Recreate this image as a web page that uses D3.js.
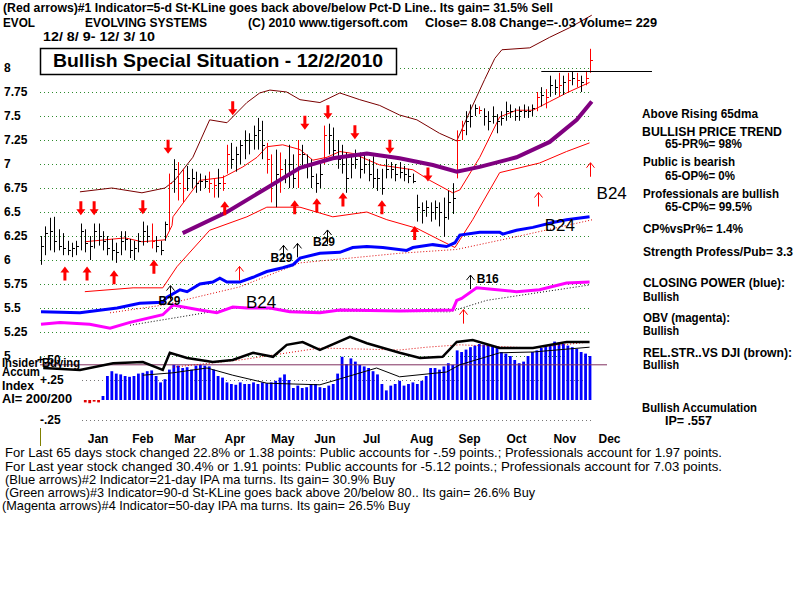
<!DOCTYPE html>
<html>
<head>
<meta charset="utf-8">
<script src="https://cdn.jsdelivr.net/npm/d3@7"></script>
<style>
  body { margin: 0; background: #fff; }
  svg { display: block; }
  text { font-family: "Liberation Sans", Arial, sans-serif; }
</style>
</head>
<body>
<svg id="chart" width="800" height="600"></svg>
<script>
// ---- data (bar index 0..124, Dec 8 2009 - Dec 3 2010) ----
const highs = [6.25,6.35,6.44,6.45,6.32,6.28,6.2,6.18,6.2,6.38,
  6.32,6.25,6.38,6.38,6.3,6.25,6.22,6.18,6.3,6.3,
  6.22,6.2,6.28,6.4,6.36,6.38,6.25,6.2,6.4,6.9,
  7.05,7.02,6.95,6.98,6.95,6.92,6.9,6.88,6.92,6.85,
  6.95,6.88,7.2,7.22,7.18,7.25,7.35,7.32,7.4,7.48,
  7.45,7.22,7.1,7.15,7.12,7.05,7.2,7.1,7.25,7.2,
  7.1,7.05,6.9,7.0,7.4,7.42,7.38,7.25,7.2,7.12,
  7.1,7.15,7.12,7.1,7.05,7.08,6.95,6.95,7.05,7.02,
  7.0,7.02,6.98,6.95,6.9,6.68,6.6,6.62,6.6,6.62,
  6.6,6.65,6.72,6.8,7.35,7.45,7.55,7.62,7.62,7.6,
  7.58,7.55,7.6,7.52,7.55,7.65,7.62,7.58,7.6,7.62,
  7.6,7.62,7.75,7.8,7.78,7.92,7.88,7.95,7.92,7.95,
  7.96,7.95,7.92,7.97,8.2];
const lows = [5.95,6.05,6.1,6.08,6.1,6.05,6.05,6.03,6.05,6.1,
  6.08,6.0,6.12,6.15,6.1,6.05,6.0,5.97,6.05,6.1,
  6.02,6.0,6.08,6.15,6.18,6.12,6.08,6.05,6.2,6.3,
  6.7,6.62,6.6,6.72,6.75,6.7,6.72,6.75,6.7,6.65,
  6.65,6.72,6.9,6.95,6.92,7.0,7.05,7.1,7.15,7.15,
  7.05,6.9,6.6,6.55,6.7,6.8,6.75,6.75,6.75,6.95,
  6.85,6.75,6.7,6.75,7.0,7.1,7.05,6.95,6.9,6.7,
  6.85,6.95,6.85,6.9,6.82,6.75,6.72,6.68,6.85,6.85,
  6.82,6.85,6.82,6.8,6.8,6.4,6.38,6.45,6.4,6.42,
  6.35,6.24,6.42,6.48,6.85,7.25,7.3,7.38,7.5,7.52,
  7.4,7.35,7.42,7.32,7.4,7.45,7.48,7.45,7.45,7.48,
  7.48,7.5,7.55,7.6,7.58,7.7,7.72,7.7,7.72,7.75,
  7.82,7.8,7.75,7.82,7.95];
const closes = [6.15,6.28,6.3,6.2,6.15,6.12,6.1,6.12,6.15,6.3,
  6.18,6.15,6.3,6.25,6.2,6.12,6.1,6.08,6.2,6.22,
  6.1,6.12,6.2,6.3,6.25,6.2,6.15,6.1,6.38,6.8,
  6.95,6.8,6.75,6.85,6.85,6.8,6.82,6.82,6.8,6.78,
  6.8,6.8,7.1,7.05,7.1,7.2,7.25,7.25,7.3,7.35,
  7.2,7.05,6.8,6.9,6.95,6.9,7.0,6.85,7.1,7.1,
  7.0,6.88,6.8,6.9,7.3,7.3,7.15,7.05,7.0,6.85,
  7.0,7.05,6.95,7.0,6.9,6.85,6.85,6.75,6.95,6.95,
  6.9,6.92,6.9,6.88,6.82,6.55,6.52,6.55,6.5,6.55,
  6.5,6.45,6.6,6.65,7.25,7.35,7.45,7.5,7.58,7.56,
  7.5,7.45,7.5,7.45,7.48,7.55,7.55,7.5,7.55,7.55,
  7.55,7.58,7.7,7.72,7.7,7.82,7.8,7.82,7.85,7.88,
  7.9,7.88,7.85,7.9,8.08];
const redBars = [25,29,31,32,38,39,41,42,51,52,54,58,64,94,95,99,112,114,117,119,121,123,124];

// accumulation index (blue bars), first bars blank
const aiValues = [null,null,null,null,null,null,null,null,null,null,
  -0.03,-0.04,-0.02,-0.03,0.05,0.3,0.36,0.33,0.32,0.3,
  0.29,0.3,0.33,0.34,0.36,0.37,0.3,0.22,0.26,0.38,
  0.44,0.43,0.4,0.41,0.38,0.43,0.44,0.43,0.42,0.38,
  0.3,0.28,0.22,0.2,0.19,0.22,0.2,0.2,0.22,0.2,
  0.22,0.21,0.22,0.24,0.28,0.32,0.25,0.15,0.18,0.15,
  0.16,0.2,0.2,0.16,0.15,0.18,0.2,0.33,0.54,0.45,
  0.52,0.48,0.44,0.42,0.4,0.36,0.32,0.2,0.12,0.18,
  0.2,0.24,0.18,0.2,0.22,0.2,0.24,0.3,0.4,0.4,
  0.38,0.42,0.46,0.44,0.62,0.6,0.63,0.66,0.68,0.7,
  0.69,0.7,0.68,0.66,0.6,0.58,0.55,0.5,0.46,0.48,
  0.55,0.6,0.62,0.65,0.68,0.7,0.73,0.72,0.7,0.68,
  0.66,0.64,0.6,0.58,0.55];

// [bar index, value]
const upperBand = [[8.8,6.71],[16,6.75],[22.8,6.7],[28,6.75],[30.2,6.83],[34.3,7.07],[38.1,7.46],[42,7.43],
  [46.5,7.64],[49.4,7.74],[51.7,7.77],[55.5,7.75],[58.5,7.67],[63,7.64],[67.5,7.74],[72,7.67],[76.5,7.61],
  [81,7.51],[84.9,7.46],[90,7.32],[93.9,7.24],[96.8,7.54],[100.2,7.88],[102.5,8.1],[104.1,8.19],[110.4,8.21],
  [114.9,8.32],[119.4,8.42],[124.4,8.55]];
const midBand = [[9.9,6.19],[14.4,6.21],[19,6.23],[22.8,6.19],[28,6.21],[29.6,6.36],[29.8,6.45],[35.9,6.83],
  [41.1,6.86],[45.6,6.97],[48.8,7.07],[51,7.18],[54.6,7.2],[58.5,7.15],[61.4,7.04],[64.6,7.07],[67.5,7.13],
  [70.4,7.11],[76.5,6.99],[84,6.94],[87.8,6.83],[93,6.7],[94.6,6.73],[99.1,7.07],[103.6,7.49],[107.4,7.56],
  [111.1,7.56],[114.9,7.65],[118.7,7.74],[123.9,7.85]];
const lowerBand = [[9.9,5.67],[20.8,5.71],[27.5,5.71],[30.7,5.93],[38.1,6.31],[46.5,6.45],[51,6.55],[58.5,6.55],
  [65.9,6.45],[73.6,6.5],[78.1,6.42],[84.9,6.33],[90,6.21],[93.5,6.13],[97.5,6.42],[103.6,6.91],[112.6,7.01],
  [118.7,7.13],[123.9,7.22]];
const ma65 = [[32,6.28],[42,6.5],[51,6.75],[58.5,6.96],[65.9,7.06],[73.6,7.11],[81,7.06],[88.5,6.99],[93.9,6.92],
  [99.1,6.97],[107.4,7.07],[114.9,7.23],[121,7.46],[124.4,7.65]];
const closingPower = [[0,5.46],[8.8,5.45],[17.2,5.5],[22.3,5.55],[27.5,5.56],[28.4,5.61],[31.4,5.69],[33,5.67],
  [35.9,5.75],[38.8,5.77],[40.4,5.81],[42,5.77],[44.9,5.77],[47.9,5.82],[51,5.88],[54.6,5.92],[56.9,5.95],
  [58.5,6.02],[63,6.07],[67.5,6.08],[70.4,6.13],[73.6,6.14],[77.2,6.13],[82.6,6.1],[84,6.13],[88.5,6.16],
  [91.6,6.14],[93.5,6.18],[94.6,6.26],[99.1,6.29],[103.6,6.29],[104.3,6.27],[107.4,6.31],[111.1,6.34],
  [115.6,6.39],[118.7,6.42],[123.9,6.45]];
const cpTrend = [[15.6,5.45],[27.5,5.53],[44.9,5.72],[58.5,5.97],[81,6.07],[93.9,6.11],[108.1,6.25],[124.6,6.42]];
const obv = [[0,5.33],[4.3,5.35],[11,5.33],[15.6,5.29],[20.1,5.35],[27.5,5.43],[29.8,5.53],[35.9,5.48],[39.7,5.45],
  [43.3,5.51],[46.5,5.5],[51.7,5.5],[56.2,5.46],[63,5.45],[67.5,5.48],[81,5.47],[93,5.48],[93.9,5.58],[95,5.6],
  [98.4,5.71],[107.4,5.67],[112.6,5.69],[118.7,5.76],[123.9,5.77]];
const obvTrend = [[20.1,5.32],[44.9,5.51],[58.5,5.47],[92.3,5.46],[100.7,5.58],[123.9,5.74]];
const relStrength = [[0.5,0.4],[8.8,0.375],[16.3,0.46],[23,0.475],[27.5,0.375],[29.1,0.59],[33,0.525],[38.8,0.475],
  [43.3,0.5],[47.9,0.59],[52.4,0.54],[55.5,0.69],[59.1,0.725],[63,0.625],[69.8,0.79],[73.6,0.71],[81,0.59],
  [85.6,0.525],[90.7,0.54],[93.9,0.725],[97.5,0.75],[103.6,0.65],[111.1,0.65],[118.7,0.725],[123.9,0.725]];
const relStrengthMa = [[29.8,0.41],[44.9,0.5],[63,0.65],[81,0.625],[87.1,0.66],[94.6,0.69],[111.1,0.65],[123.9,0.725]];
const aiMa = [[23,0.31],[29.8,0.34],[37.5,0.4],[43.3,0.31],[51,0.21],[63,0.19],[75.8,0.4],[81,0.29],[91.6,0.35],
  [94.6,0.44],[103.6,0.59],[111.1,0.6],[123.9,0.66]];
const aiLevel = 0.44;
const resistance = { from: 113, to: 138, value: 7.97 };

// signal arrows [bar index, price]
const redUpArrows = [[5.4,5.86],[10.4,5.86],[16.5,5.82],[25.5,5.93],[41.5,6.54],[57.3,6.55],[62.3,6.57],[68.2,6.63],[77,6.55],[84.4,6.28]];
const redUpThin = [[44.7,5.86],[95.3,5.41],[112.2,6.63],[123.9,6.94]];
const redDownArrows = [[9,6.54],[12,6.54],[23,6.55],[28.7,7.18],[43.3,7.58],[59.6,7.43],[64.8,7.54],[70.9,7.33],[78.8,7.18],[87.4,6.89]];
const blackUpArrows = [[29.1,5.66],[54.6,6.08],[57.8,6.1],[64.6,6.24],[96.8,5.77]];
const smallSignals = [["B29",29,5.53],["B29",54.3,5.98],["B29",63.9,6.15],["B16",100.9,5.76]];
const bigSignals = [["B24",49.7,5.5],["B24",117.2,6.3],["B24",128.9,6.64]];

const priceTicks = [8,7.75,7.5,7.25,7,6.75,6.5,6.25,6,5.75,5.5,5.25,5];
const aiTicks = [0.5,0.25,-0.25];
const aiTickLabels = ["+.50","+.25","-.25"];
const months = ["Jan","Feb","Mar","Apr","May","Jun","Jul","Aug","Sep","Oct","Nov","Dec"];
const monthPos = [12.9,23,32.5,43.8,54.6,64.1,74.7,86,96.8,107.4,118.3,128.4];

// ---- drawing ----
const svg = d3.select("#chart");
const x = d3.scaleLinear().domain([0, 124]).range([41, 590]);
const y = d3.scaleLinear().domain([5, 8]).range([356, 68]);
const yAI = d3.scaleLinear().domain([-0.25, 0.5]).range([420, 360]);

const priceLine = d3.line().x(d => x(d[0])).y(d => y(d[1]));
const aiLine = d3.line().x(d => x(d[0])).y(d => yAI(d[1]));

// dotted grid
svg.append("g").selectAll("line").data(priceTicks).join("line")
  .attr("x1", 40).attr("x2", 592)
  .attr("y1", d => Math.round(y(d)) + 0.5).attr("y2", d => Math.round(y(d)) + 0.5)
  .attr("stroke", "#2e8b2e").attr("stroke-dasharray", "1,3");
svg.append("g").selectAll("line").data(aiTicks.slice(1)).join("line")
  .attr("x1", 82).attr("x2", 592)
  .attr("y1", d => Math.round(yAI(d)) + 0.5).attr("y2", d => Math.round(yAI(d)) + 0.5)
  .attr("stroke", "#777").attr("stroke-dasharray", "1,3");

// accumulation bars
svg.append("g").selectAll("rect").data(aiValues.map((v, i) => [i, v]).filter(d => d[1] !== null)).join("rect")
  .attr("x", d => x(d[0]) - 1.4).attr("width", 2.8)
  .attr("y", d => Math.min(yAI(0), yAI(d[1])))
  .attr("height", d => Math.abs(yAI(d[1]) - yAI(0)))
  .attr("fill", d => d[1] < 0 ? "#e00000" : "#0000ff");

svg.append("line")
  .attr("x1", 40).attr("x2", 607).attr("y1", yAI(aiLevel)).attr("y2", yAI(aiLevel))
  .attr("stroke", "#803060").attr("stroke-width", 1);
svg.append("path").datum(aiMa).attr("d", aiLine)
  .attr("fill", "none").attr("stroke", "#000").attr("stroke-width", 1);
svg.append("path").datum(relStrengthMa).attr("d", aiLine)
  .attr("fill", "none").attr("stroke", "#e00000").attr("stroke-width", 1).attr("stroke-dasharray", "1,2");
svg.append("path").datum(relStrength).attr("d", aiLine)
  .attr("fill", "none").attr("stroke", "#000").attr("stroke-width", 2.5);

// bands
svg.append("path").datum(upperBand).attr("d", priceLine)
  .attr("fill", "none").attr("stroke", "#7a0000").attr("stroke-width", 1);
svg.append("path").datum(lowerBand).attr("d", priceLine)
  .attr("fill", "none").attr("stroke", "#ff0000").attr("stroke-width", 1);
svg.append("path").datum(midBand).attr("d", priceLine)
  .attr("fill", "none").attr("stroke", "#ff0000").attr("stroke-width", 1);

// price bars
const bars = svg.append("g").selectAll("g").data(highs.map((h, i) => i)).join("g")
  .attr("stroke", i => redBars.includes(i) ? "#ff0000" : "#000");
bars.append("line")
  .attr("x1", i => Math.round(x(i)) + 0.5).attr("x2", i => Math.round(x(i)) + 0.5)
  .attr("y1", i => y(highs[i])).attr("y2", i => y(lows[i]));
bars.append("line")
  .attr("x1", i => Math.round(x(i)) + 0.5).attr("x2", i => Math.round(x(i)) + 3)
  .attr("y1", i => Math.round(y(closes[i])) + 0.5).attr("y2", i => Math.round(y(closes[i])) + 0.5);

// 65-day ma, closing power, obv
svg.append("path").datum(ma65).attr("d", priceLine)
  .attr("fill", "none").attr("stroke", "#800080").attr("stroke-width", 4);
svg.append("path").datum(cpTrend).attr("d", priceLine)
  .attr("fill", "none").attr("stroke", "#e00000").attr("stroke-width", 1).attr("stroke-dasharray", "1,2");
svg.append("path").datum(closingPower).attr("d", priceLine)
  .attr("fill", "none").attr("stroke", "#0000ff").attr("stroke-width", 3);
svg.append("path").datum(obvTrend).attr("d", priceLine)
  .attr("fill", "none").attr("stroke", "#000").attr("stroke-width", 1).attr("stroke-dasharray", "1,2");
svg.append("path").datum(obv).attr("d", priceLine)
  .attr("fill", "none").attr("stroke", "#ff00ff").attr("stroke-width", 3);

svg.append("line")
  .attr("x1", x(resistance.from)).attr("x2", x(resistance.to))
  .attr("y1", Math.round(y(resistance.value)) + 0.5).attr("y2", Math.round(y(resistance.value)) + 0.5)
  .attr("stroke", "#000");

// arrows
function solidArrow(d, up) {
  const cx = x(d[0]), cy = y(d[1]), s = up ? 1 : -1;
  return `M${cx},${cy - 7 * s} L${cx + 4.5},${cy - 1 * s} L${cx + 1.5},${cy - 1 * s} L${cx + 1.5},${cy + 7 * s}` +
    ` L${cx - 1.5},${cy + 7 * s} L${cx - 1.5},${cy - 1 * s} L${cx - 4.5},${cy - 1 * s} Z`;
}
function thinArrow(d) {
  const cx = Math.round(x(d[0])) + 0.5, cy = y(d[1]);
  return `M${cx},${cy + 7} L${cx},${cy - 7} M${cx - 4},${cy - 2} L${cx},${cy - 7} L${cx + 4},${cy - 2}`;
}
svg.append("g").selectAll("path").data(redUpArrows).join("path")
  .attr("d", d => solidArrow(d, true)).attr("fill", "#ff0000");
svg.append("g").selectAll("path").data(redDownArrows).join("path")
  .attr("d", d => solidArrow(d, false)).attr("fill", "#ff0000");
svg.append("g").selectAll("path").data(redUpThin).join("path")
  .attr("d", thinArrow).attr("fill", "none").attr("stroke", "#ff0000");
svg.append("g").selectAll("path").data(blackUpArrows).join("path")
  .attr("d", thinArrow).attr("fill", "none").attr("stroke", "#000");

svg.append("g").selectAll("text").data(smallSignals).join("text")
  .attr("x", d => x(d[1])).attr("y", d => y(d[2]))
  .attr("text-anchor", "middle").attr("font-size", 12).attr("font-weight", "bold")
  .text(d => d[0]);
svg.append("g").selectAll("text").data(bigSignals).join("text")
  .attr("x", d => x(d[1])).attr("y", d => y(d[2]))
  .attr("text-anchor", "middle").attr("font-size", 17)
  .text(d => d[0]);

// axis labels
svg.append("g").selectAll("text").data(priceTicks).join("text")
  .attr("x", 4).attr("y", d => y(d) + 4)
  .attr("font-size", 12).attr("font-weight", "bold")
  .text(d => String(d));
svg.append("g").selectAll("text").data(aiTicks).join("text")
  .attr("x", (d, i) => i === 0 ? 37 : 40).attr("y", d => yAI(d) + 4)
  .attr("font-size", 12).attr("font-weight", "bold")
  .text((d, i) => aiTickLabels[i]);
svg.append("g").selectAll("text").data(months).join("text")
  .attr("x", (d, i) => x(monthPos[i])).attr("y", 443)
  .attr("text-anchor", "middle").attr("font-size", 12).attr("font-weight", "bold")
  .text(d => d);
svg.append("line").attr("x1", 40.5).attr("x2", 40.5).attr("y1", 428).attr("y2", 446)
  .attr("stroke", "#808000");

// title box
svg.append("rect").attr("x", 40.5).attr("y", 48.5).attr("width", 356).attr("height", 26)
  .attr("fill", "#fff").attr("stroke", "#000").attr("stroke-width", 1.5);
svg.append("text").attr("x", 53).attr("y", 67)
  .attr("font-size", 19).attr("font-weight", "bold")
  .attr("textLength", 330).attr("lengthAdjust", "spacingAndGlyphs")
  .text("Bullish Special Situation - 12/2/2010");

// text blocks: [text, x, baseline, width]
const boldText = [
  ["(Red arrows)#1 Indicator=5-d St-KLine goes back above/below Pct-D Line.. Its gain= 31.5% Sell", 3, 12, 550],
  ["EVOL", 3, 27, 32],
  ["EVOLVING SYSTEMS", 85, 27, 122],
  ["(C) 2010 www.tigersoft.com", 248, 27, 160],
  ["Close=  8.08  Change=-.03 Volume= 229", 425, 27, 232],
  ["12/ 8/ 9- 12/ 3/ 10", 43, 41, 112],
  ["Above Rising 65dma", 642, 118, 116],
  ["BULLISH PRICE TREND", 642, 136, 140],
  ["65-PR%= 98%", 665, 148, 77],
  ["Public is bearish", 643, 166, 92],
  ["65-OP%= 0%", 665, 180, 70],
  ["Professionals are bullish", 643, 198, 136],
  ["65-CP%= 99.5%", 665, 211, 87],
  ["CP%vsPr%=  1.4%", 643, 233, 100],
  ["Strength Profess/Pub= 3.3", 643, 256, 150],
  ["CLOSING POWER (blue):", 643, 287, 142],
  ["Bullish", 643, 301, 36],
  ["OBV (magenta):", 643, 322, 87],
  ["Bullish", 643, 335, 36],
  ["REL.STR..VS DJI (brown):", 643, 357, 149],
  ["Bullish", 643, 369, 36],
  ["Bullish Accumulation", 642, 412, 115],
  ["IP= .557", 665, 425, 47],
  ["Insider Buying", 2, 367, 78],
  ["Accum", 2, 376, 38],
  ["Index", 2, 390, 32],
  ["AI= 200/200", 2, 403, 70]
];
svg.append("g").selectAll("text").data(boldText).join("text")
  .attr("x", d => d[1]).attr("y", d => d[2])
  .attr("font-size", 12).attr("font-weight", "bold")
  .attr("textLength", d => d[3]).attr("lengthAdjust", "spacingAndGlyphs")
  .text(d => d[0]);

const footText = [
  ["For Last 65 days stock changed  22.8% or  1.38 points:  Public accounts for -.59 points.;  Professionals account for  1.97 points.", 5, 457, 717],
  ["For Last year stock changed  30.4% or  1.91 points:  Public accounts for -5.12 points.;  Professionals account for  7.03 points.", 5, 471, 717],
  ["(Blue arrows)#2 Indicator=21-day IPA ma turns. Its gain= 30.9% Buy", 5, 484, 390],
  ["(Green arrows)#3 Indicator=90-d St-KLine goes back above 20/below 80.. Its gain= 26.6% Buy", 5, 497, 530],
  ["(Magenta arrows)#4 Indicator=50-day IPA ma turns. Its gain= 26.5% Buy", 2, 510, 408]
];
svg.append("g").selectAll("text").data(footText).join("text")
  .attr("x", d => d[1]).attr("y", d => d[2])
  .attr("font-size", 13)
  .style("font-family", "'Liberation Sans Narrow', 'Arial Narrow', 'Liberation Sans', sans-serif")
  .attr("textLength", d => d[3]).attr("lengthAdjust", "spacingAndGlyphs")
  .text(d => d[0]);
</script>
</body>
</html>
